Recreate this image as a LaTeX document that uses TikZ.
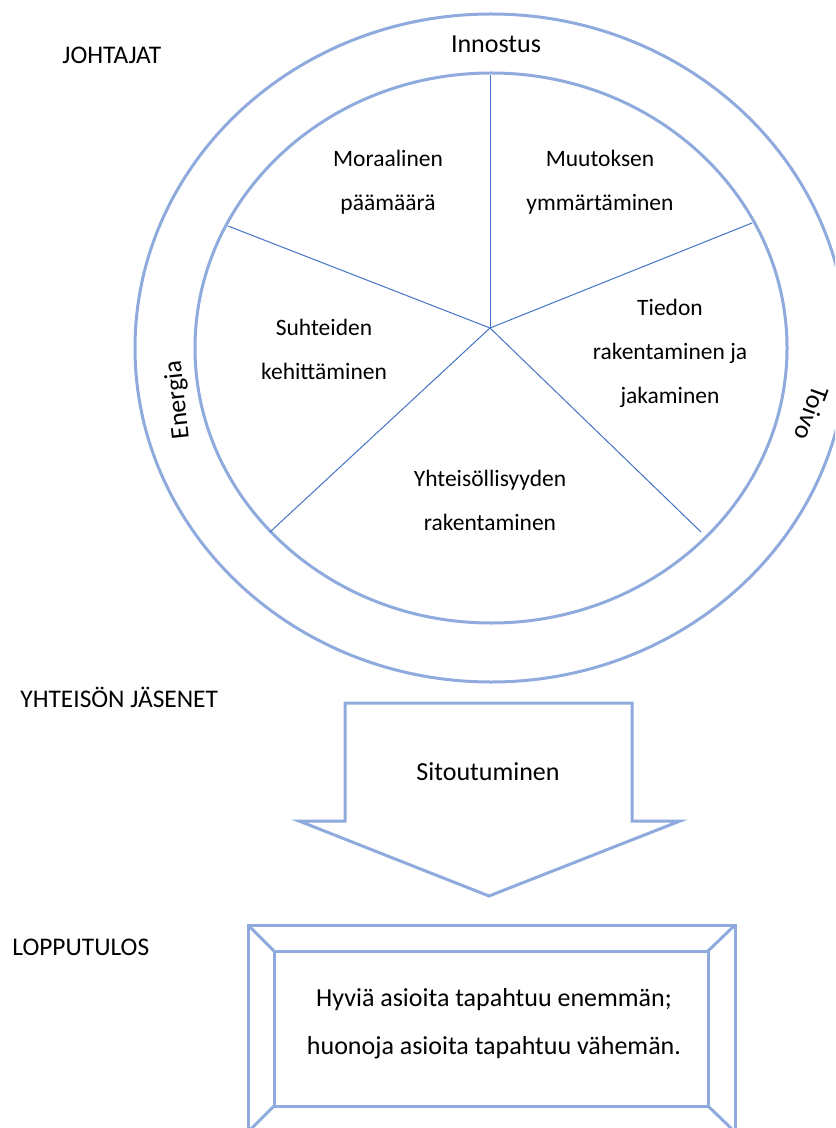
\documentclass[tikz,border=0pt]{standalone}
\usepackage{fontspec}
\setmainfont{Carlito}
\definecolor{ringblue}{HTML}{8FAADC}
\definecolor{spokeblue}{HTML}{4472C4}
\tikzset{
  ring/.style={draw=ringblue, line width=1.5pt},
  spoke/.style={draw=spokeblue, line width=0.5pt},
  lbl/.style={font=\fontsize{11.75}{22}\selectfont, align=center, inner sep=0pt},
  biglbl/.style={font=\fontsize{13}{24}\selectfont, align=center, inner sep=0pt},
  head/.style={font=\fontsize{12.7}{15}\selectfont, inner sep=0pt, anchor=west},
}
\begin{document}
\begin{tikzpicture}[x=0.5pt,y=-0.5pt]
\useasboundingbox (0,0) rectangle (835,1128);
\clip (0,0) rectangle (835,1128);
% rings
\draw[ring] (491,348) ellipse [x radius=178pt, y radius=167pt];
\draw[ring] (491,348) ellipse [x radius=148pt, y radius=137.5pt];
% spokes
\coordinate (c) at (490,328);
\coordinate (pt) at (490,75);
\coordinate (pul) at (228,226);
\coordinate (pur) at (752,223);
\coordinate (pll) at (270,532);
\coordinate (plr) at (701,532);
\foreach \p in {pt,pul,pur,pll,plr} \draw[spoke] (c) -- (\p);
% ring labels
\node[biglbl] (innostus) at (496,44) {Innostus};
\node[biglbl, rotate=96] (energia) at (178,400) {Energia};
\node[biglbl, rotate=-110] (toivo) at (812,413) {Toivo};
% sector labels
\node[lbl] (moraal) at (388,182) {Moraalinen\\päämäärä};
\node[lbl] (muutos) at (600,182) {Muutoksen\\ymmärtäminen};
\node[lbl] (suht) at (324,349) {Suhteiden\\kehittäminen};
\node[lbl] (tiedon) at (670,353) {Tiedon\\rakentaminen ja\\jakaminen};
\node[lbl] (yht) at (490,500) {Yhteisöllisyyden\\rakentaminen};
% headings
\node[head] (joht) at (62,55) {JOHTAJAT};
\node[head] (jas) at (20,697) {YHTEISÖN JÄSENET};
\node[head] (lopp) at (12,947) {LOPPUTULOS};
% arrow
\coordinate (a1) at (345,703);
\coordinate (a2) at (632,703);
\coordinate (a3) at (632,821);
\coordinate (a4) at (680,821);
\coordinate (a5) at (489,896);
\coordinate (a6) at (299,821);
\coordinate (a7) at (345,821);
\draw[ring, line join=miter] (a1) -- (a2) -- (a3) -- (a4) -- (a5) -- (a6) -- (a7) -- cycle;
\node[biglbl] (sit) at (488,772) {Sitoutuminen};
% bevel box
\coordinate (o1) at (248,925);
\coordinate (o2) at (735,925);
\coordinate (o3) at (735,1132);
\coordinate (o4) at (248,1132);
\coordinate (i1) at (274,951);
\coordinate (i2) at (708,951);
\coordinate (i3) at (708,1106);
\coordinate (i4) at (274,1106);
\draw[ring] (o1) -- (o2) -- (o3) -- (o4) -- cycle;
\draw[ring] (i1) -- (i2) -- (i3) -- (i4) -- cycle;
\draw[ring] (o1) -- (i1);
\draw[ring] (o2) -- (i2);
\draw[ring] (o3) -- (i3);
\draw[ring] (o4) -- (i4);
\node[biglbl] (res) at (494,1024) {Hyviä asioita tapahtuu enemmän;\\huonoja asioita tapahtuu vähemän.};
\end{tikzpicture}
\end{document}
